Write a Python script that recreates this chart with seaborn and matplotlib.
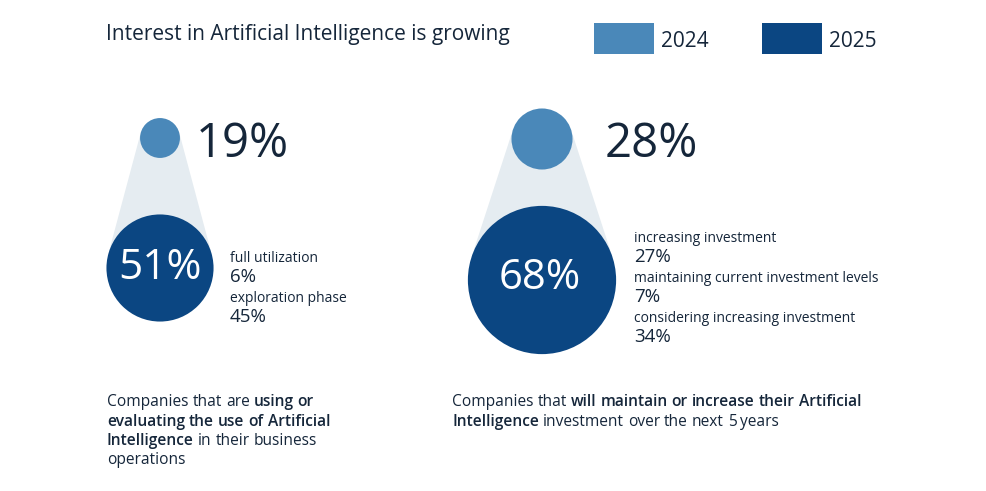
import numpy as np
import pandas as pd
import matplotlib
matplotlib.use("Agg")
import matplotlib.pyplot as plt
from matplotlib.patches import Rectangle
import seaborn as sns

# ---------------- data ----------------
years = ["2024", "2025"]
usage_values = [19, 51]                # using / evaluating AI
invest_values = [28, 68]               # maintain / increase AI investment
usage_break_labels = ["full utilization", "exploration phase"]
usage_break_values = [6, 45]
invest_break_labels = ["increasing investment",
                       "maintaining current investment levels",
                       "considering increasing investment"]
invest_break_values = [27, 7, 34]
title = "Interest in Artificial Intelligence is growing"

# ---------------- style ----------------
sns.set_theme(style="white")
plt.rcParams['font.family'] = ['Open Sans', 'DejaVu Sans']
C24 = "#4a88b9"
C25 = "#0b4682"
GREY = "#e5ecf1"
TXT = "#15263a"
palette = {"2024": C24, "2025": C25}

fig = plt.figure(figsize=(9.87, 4.91), dpi=100)
ax = fig.add_axes([0, 0, 1, 1])

# layout: (x, y) centers for 2024 & 2025 circles, radius scale per panel
panels = [
    dict(values=usage_values, cx=[160, 160], cy=[138, 268], k=1.05),
    dict(values=invest_values, cx=[542, 542], cy=[139, 280], k=1.09),
]

rows = []
for pi, p in enumerate(panels):
    for yr, v, x, y in zip(years, p["values"], p["cx"], p["cy"]):
        rows.append(dict(panel=pi, x=x, y=y, value=v, year=yr, r=v * p["k"]))
df = pd.DataFrame(rows)

# connecting cone (convex hull of the two circles)
for pi in range(len(panels)):
    sub = df[df["panel"] == pi]
    (x1, y1, r1), (x2, y2, r2) = sub[["x", "y", "r"]].values
    d = np.array([x2 - x1, y2 - y1])
    L = np.hypot(*d)
    dh = d / L
    th = np.arccos((r1 - r2) / L)
    pts = []
    for s in (1, -1):
        c, sn = np.cos(s * th), np.sin(s * th)
        n = np.array([c * dh[0] - sn * dh[1], sn * dh[0] + c * dh[1]])
        pts.append((np.array([x1, y1]) + r1 * n, np.array([x2, y2]) + r2 * n))
    poly = np.array([pts[0][0], pts[0][1], pts[1][1], pts[1][0]])
    ax.fill(poly[:, 0], poly[:, 1], color=GREY, zorder=1, lw=0)

# circles via seaborn; marker area in pt^2 (1 px = 0.72 pt at 100 dpi)
sizes = {v: (2 * r * 0.72) ** 2 for v, r in zip(df["value"], df["r"])}
sns.scatterplot(data=df, x="x", y="y", hue="year", size="value",
                sizes=sizes, palette=palette, linewidth=0, legend=False,
                ax=ax, zorder=3)
ax.set_xlim(0, 987)
ax.set_ylim(491, 0)
ax.axis("off")

# big numbers
ax.text(196, 157, f"{usage_values[0]}%", fontsize=34, color=TXT, va="baseline", ha="left")
ax.text(160, 268, f"{usage_values[1]}%", fontsize=30.5, color="white", va="center", ha="center", zorder=5)
ax.text(605, 157, f"{invest_values[0]}%", fontsize=34, color=TXT, va="baseline", ha="left")
ax.text(540, 278, f"{invest_values[1]}%", fontsize=30, color="white", va="center", ha="center", zorder=5)

# breakdown labels
for i, (lab, v) in enumerate(zip(usage_break_labels, usage_break_values)):
    yb = 262 + i * 40
    ax.text(230, yb, lab, fontsize=10, color=TXT, va="baseline")
    ax.text(230, yb + 20.5, f"{v}%", fontsize=13.5, color=TXT, va="baseline")
for i, (lab, v) in enumerate(zip(invest_break_labels, invest_break_values)):
    yb = 242 + i * 40
    ax.text(634, yb, lab, fontsize=10, color=TXT, va="baseline")
    ax.text(634, yb + 19.5, f"{v}%", fontsize=13.5, color=TXT, va="baseline")

# title
ax.text(106, 40, title, fontsize=15, color=TXT, va="baseline", ha="left")

# legend
for yr, x0 in zip(years, [594, 762]):
    ax.add_patch(Rectangle((x0, 23), 60, 31, color=palette[yr], lw=0))
    ax.text(x0 + 67, 47, yr, fontsize=15, color=TXT, va="baseline")

# rich captions, drawn word by word
fig.canvas.draw()
renderer = fig.canvas.get_renderer()
BOLD = "semibold"


def width_of(s, weight, fs):
    t = ax.text(0, 0, s, fontsize=fs, fontweight=weight)
    w = t.get_window_extent(renderer).width
    t.remove()
    return w


def draw_lines(x0, y0, lines, fs=11.2, lh=19.5):
    for li, runs in enumerate(lines):
        x = x0
        for txt, wt in runs:
            words = txt.split(" ")
            for wi, word in enumerate(words):
                if wi == 0:
                    off = 0.0
                else:
                    off = width_of(" ".join(words[:wi + 1]), wt, fs) - width_of(word, wt, fs)
                ax.text(x + off, y0 + li * lh, word, fontsize=fs, fontweight=wt,
                        color=TXT, va="baseline", ha="left")
            sp = width_of("x x", wt, fs) - width_of("xx", wt, fs)
            x += width_of(txt, wt, fs) + sp


draw_lines(107, 406, [
    [("Companies that are", "normal"), ("using or", BOLD)],
    [("evaluating the use of Artificial", BOLD)],
    [("Intelligence", BOLD), ("in their business", "normal")],
    [("operations", "normal")],
])
draw_lines(452, 406, [
    [("Companies that", "normal"), ("will maintain or increase their Artificial", BOLD)],
    [("Intelligence", BOLD), ("investment over the next 5 years", "normal")],
])

fig.savefig("out.png", dpi=100)
